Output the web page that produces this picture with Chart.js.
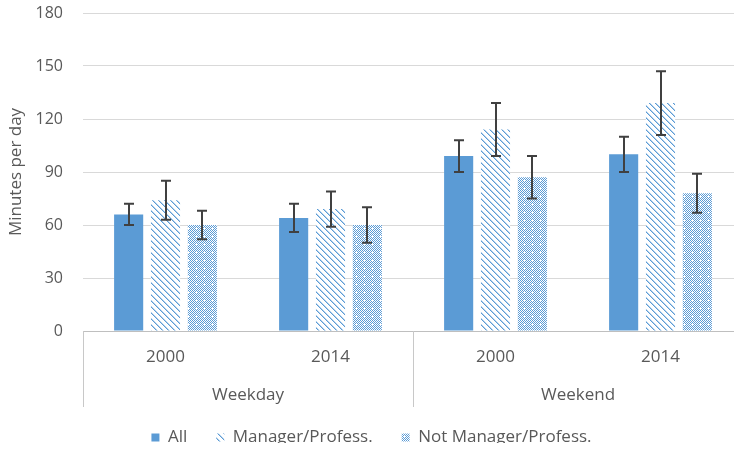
<!DOCTYPE html>
<html><head><meta charset="utf-8">
<script src="https://cdn.jsdelivr.net/npm/chart.js@4"></script>
<style>
html,body{margin:0;padding:0;background:#fff;overflow:hidden;width:734px;height:450px}
#wrap{width:760px;height:450px}
</style></head>
<body><div id="wrap"><canvas id="c" width="760" height="450"></canvas></div>
<script>
// ---- data ----
const years = ['2000', '2014', '2000', '2014'];
const groups = ['Weekday', 'Weekend'];
const seriesNames = ['All', 'Manager/Profess.', 'Not Manager/Profess.'];
const allValues = [66, 64, 99, 100];
const allErrors = [6, 8, 9, 10];
const managerValues = [74, 69, 114, 129];
const managerErrors = [11, 10, 15, 18];
const notManagerValues = [60, 60, 87, 78];
const notManagerErrors = [8, 10, 12, 11];
const yMin = 0, yMax = 180, yStep = 30;

const BLUE = '#5B9BD5';
const TEXT = '#595959';

function makePattern(kind) {
  const s = kind === 'diag' ? 6 : 8;
  const c = document.createElement('canvas');
  c.width = s; c.height = s;
  const g = c.getContext('2d');
  g.fillStyle = '#fff'; g.fillRect(0, 0, s, s);
  g.fillStyle = BLUE;
  if (kind === 'diag') {
    for (let i = 0; i < s; i++) g.fillRect(i, i, 1, 1);
    g.globalAlpha = 0.45;
    for (let i = 0; i < s; i++) g.fillRect((i + 1) % s, i, 1, 1);
  } else {
    for (let y = 0; y < s; y++) for (let x = 0; x < s; x++) {
      if ((x + y) % 2 === 0) g.fillRect(x, y, 1, 1);
    }
    g.fillStyle = '#fff';
    g.fillRect(4, 4, 1, 1); g.fillRect(3, 4, 1, 1); g.fillRect(4, 3, 1, 1);
  }
  return g.createPattern(c, 'repeat');
}

const errorBars = {
  id: 'errorBars',
  afterDatasetsDraw(chart) {
    const ctx = chart.ctx;
    const ys = chart.scales.y;
    ctx.save();
    ctx.strokeStyle = '#404040';
    ctx.lineWidth = 2;
    chart.data.datasets.forEach((ds, i) => {
      const meta = chart.getDatasetMeta(i);
      meta.data.forEach((el, j) => {
        const v = ds.data[j], e = ds.errors[j];
        const x = Math.round(el.x);
        const t = ys.getPixelForValue(v + e), b = ys.getPixelForValue(v - e);
        ctx.beginPath();
        ctx.moveTo(x, t); ctx.lineTo(x, b);
        ctx.moveTo(x - 5, t); ctx.lineTo(x + 5, t);
        ctx.moveTo(x - 5, b); ctx.lineTo(x + 5, b);
        ctx.stroke();
      });
    });
    ctx.restore();
  }
};

const separators = {
  id: 'separators',
  afterDraw(chart) {
    const ctx = chart.ctx, xs = chart.scales.x, x2 = chart.scales.x2;
    const a = chart.chartArea;
    const mid = (xs.getPixelForValue(1) + xs.getPixelForValue(2)) / 2;
    ctx.save();
    ctx.strokeStyle = '#c8c8c8';
    ctx.lineWidth = 1;
    [a.left, mid, a.right].forEach(px => {
      const p = Math.round(px) + 0.5;
      ctx.beginPath(); ctx.moveTo(p, a.bottom); ctx.lineTo(p, x2.bottom); ctx.stroke();
    });
    ctx.restore();
  }
};

const legendShift = {
  id: 'legendShift',
  afterLayout(chart) {
    const lg = chart.legend;
    if (lg) { lg.top -= 7; lg.bottom -= 7; }
  }
};

new Chart(document.getElementById('c'), {
  type: 'bar',
  data: {
    labels: years,
    datasets: [
      { label: seriesNames[0], data: allValues, errors: allErrors, backgroundColor: BLUE, borderWidth: 0 },
      { label: seriesNames[1], data: managerValues, errors: managerErrors, backgroundColor: makePattern('diag'), borderWidth: 0 },
      { label: seriesNames[2], data: notManagerValues, errors: notManagerErrors, backgroundColor: makePattern('dots'), borderWidth: 0 }
    ]
  },
  options: {
    responsive: false,
    animation: false,
    devicePixelRatio: 1,
    categoryPercentage: 0.67,
    barPercentage: 0.79,
    layout: { padding: { top: 0, right: 17, left: 0, bottom: 0 } },
    plugins: {
      tooltip: { enabled: false },
      legend: {
        position: 'bottom',
        maxHeight: 43,
        labels: {
          boxWidth: 8, boxHeight: 8, padding: 29, color: TEXT,
          font: { family: 'Open Sans', size: 17 }
        }
      }
    },
    scales: {
      y: {
        min: yMin, max: yMax,
        ticks: { stepSize: yStep, padding: 20, color: TEXT, font: { family: 'Open Sans', size: 16 } },
        grid: { color: '#d9d9d9', drawTicks: false },
        border: { display: false },
        title: { display: true, text: 'Minutes per day', color: TEXT, font: { family: 'Open Sans', size: 17 }, padding: { top: 6, bottom: 0 } },
        afterFit(s) { s.width = 83; s.paddingTop = 13; s.paddingBottom = 0; }
      },
      x: {
        position: 'bottom',
        grid: { display: false, drawTicks: false },
        border: { display: true, color: '#bfbfbf' },
        ticks: { padding: 16, color: TEXT, font: { family: 'Open Sans', size: 17 }, maxRotation: 0 },
        afterFit(s) { s.height = 44; }
      },
      x2: {
        type: 'category',
        axis: 'x',
        position: 'bottom',
        labels: groups,
        offset: true,
        grid: { display: false, drawTicks: false },
        border: { display: false },
        ticks: { padding: 10, color: TEXT, font: { family: 'Open Sans', size: 17 }, maxRotation: 0 },
        afterFit(s) { s.height = 32; }
      }
    }
  },
  plugins: [errorBars, separators, legendShift]
});
</script>
</body></html>
